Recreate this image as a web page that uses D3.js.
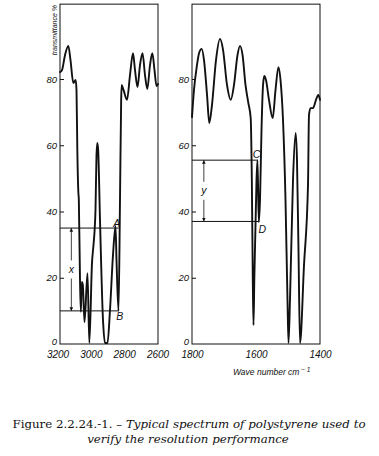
<!DOCTYPE html>
<html>
<head>
<meta charset="utf-8">
<script src="https://cdn.jsdelivr.net/npm/d3@7"></script>
<style>
  html, body { margin: 0; padding: 0; background: #fff; }
  svg { display: block; }
</style>
</head>
<body>
<svg id="chart" width="379" height="456"></svg>
<script>
// ---------- data ----------
const leftWave = [3185,3173,3155,3135,3122,3105,3091,3086,3081,3075,3072,3065,3060,3054,3048,3038,3020,3009,2993,2984,2978,2972,2966,2961,2956,2945,2927,2915,2900,2885,2867,2852,2846,2834,2825,2818,2815,2804,2783,2765,2747,2735,2720,2705,2690,2675,2661,2645,2631,2618,2606,2597];
const leftT    = [82.1,82.7,87.2,90,85.7,78.8,79.7,76.7,58.6,45.9,43.5,19.3,9.7,18.7,17.8,6.6,21.4,0.3,24.5,29.9,33.8,40.5,57,60.7,58.6,37.4,7.2,0.3,0.3,10.3,26.9,35.6,25.4,10,43.5,73.7,78.2,76.7,73.7,81.2,87.8,82.7,77.6,84.2,87.8,81.2,77,84.2,87.8,82.7,77.9,78.5];

const rightWave = [1800,1793.8,1785.3,1778,1769.7,1762.5,1753,1746,1737.5,1725,1712.5,1703,1690.6,1679,1668.8,1657.8,1650,1642,1632.8,1624,1616.6,1613,1610,1607.8,1605.3,1598.4,1595.3,1591.3,1587.5,1582.8,1578,1574,1568.8,1559.4,1547.8,1539,1530,1523.4,1515.6,1507.8,1501.6,1498.4,1493.8,1484.4,1476,1471.9,1467.2,1462.5,1450,1437.5,1434.4,1429.7,1421.9,1412.5,1405.3,1400];
const rightT    = [68.5,76.7,83.6,87.8,89.1,85.7,75.2,66.7,72.2,85.7,92.1,88.8,78.2,73.7,78.2,87.2,90,87.2,78.2,72.8,68.2,49.5,19.3,5.7,19.3,49.5,55.5,36.8,43.5,64.6,78.2,80.9,79.7,73.7,68.2,76.7,83.6,79.7,67.6,43.5,13.3,0.3,13.3,49.5,63.7,55.5,28.4,0.3,23.8,48,69.1,71.2,71.2,73.7,75.2,73.7];

const leftTickLabels  = [3200, 3000, 2800, 2600];
const rightTickLabels = [1800, 1600, 1400];
const yTickLabels     = [0, 20, 40, 60, 80];
const leftFrame  = [3185, 2597];
const rightFrame = [1800, 1400];
const yTop = 102.6;

// resolution markers: x between A (35) and B (10), y between C (55.5) and D (37)
const levelA = 35, levelB = 10, levelC = 55.5, levelD = 37;
const markerLeft  = { wave: 3117, end: 2833 };
const markerRight = { wave: 1763, endC: 1595, endD: 1590 };

// ---------- drawing ----------
const svg = d3.select("#chart");
const ink = "#111";
const sans = "Liberation Sans, Arial, sans-serif";

const y  = d3.scaleLinear().domain([0, 80]).range([344, 79]);
const xL = d3.scaleLinear().domain([3200, 2600]).range([57.5, 157.5]);
const xR = d3.scaleLinear().domain([1800, 1400]).range([192, 320]);

const defs = svg.append("defs");
defs.append("marker").attr("id", "ah")
  .attr("viewBox", "0 0 10 10").attr("refX", 10).attr("refY", 5)
  .attr("markerWidth", 3.6).attr("markerHeight", 8).attr("markerUnits", "userSpaceOnUse")
  .attr("orient", "auto")
  .append("path").attr("d", "M0,0 L10,5 L0,10 Z").attr("fill", ink);

function panel(x, frame, ticks, wave, T) {
  const g = svg.append("g");
  g.append("rect")
    .attr("x", x(frame[0])).attr("y", y(yTop))
    .attr("width", x(frame[1]) - x(frame[0])).attr("height", y(0) - y(yTop))
    .attr("fill", "none").attr("stroke", ink).attr("stroke-width", 1);

  const ya = g.append("g").attr("transform", `translate(${x(frame[0])},0)`)
    .call(d3.axisLeft(y).tickValues(yTickLabels).tickSize(-4).tickPadding(3));
  ya.select(".domain").remove();
  ya.selectAll(".tick line").attr("stroke", ink);
  ya.selectAll(".tick").filter(d => d === 0).select("line").remove();
  ya.selectAll("text").attr("font-family", sans)
    .attr("font-style", "italic").attr("font-size", 9.5).attr("fill", ink);
  ya.selectAll(".tick").filter(d => d === 0).select("text").attr("dy", "0.05em");

  const xa = g.append("g").attr("transform", `translate(0,${y(0)})`)
    .call(d3.axisBottom(x).tickValues(ticks).tickSize(0).tickPadding(7).tickFormat(d3.format("d")));
  xa.select(".domain").remove();
  xa.selectAll("text").attr("font-family", sans)
    .attr("font-style", "italic").attr("font-size", 10).attr("fill", ink);

  const pts = wave.map((w, i) => [w, T[i]]);
  g.append("path").datum(pts)
    .attr("fill", "none").attr("stroke", ink).attr("stroke-width", 1.9)
    .attr("stroke-linejoin", "round").attr("stroke-linecap", "round")
    .attr("d", d3.line().x(d => x(d[0])).y(d => y(d[1])).curve(d3.curveMonotoneX));
  return g;
}

const gl = panel(xL, leftFrame, leftTickLabels, leftWave, leftT);
const gr = panel(xR, rightFrame, rightTickLabels, rightWave, rightT);

function hline(g, x, w0, w1, lev) {
  g.append("line").attr("x1", x(w0)).attr("x2", x(w1)).attr("y1", y(lev)).attr("y2", y(lev))
    .attr("stroke", ink).attr("stroke-width", 1);
}
function darrow(g, xp, top, bot, label) {
  const mid = (y(top) + y(bot)) / 2;
  g.append("line").attr("x1", xp).attr("x2", xp).attr("y1", mid - 9).attr("y2", y(top))
    .attr("stroke", ink).attr("stroke-width", 0.8).attr("marker-end", "url(#ah)");
  g.append("line").attr("x1", xp).attr("x2", xp).attr("y1", mid + 9).attr("y2", y(bot))
    .attr("stroke", ink).attr("stroke-width", 0.8).attr("marker-end", "url(#ah)");
  g.append("text").attr("x", xp).attr("y", mid + 3.5).attr("text-anchor", "middle")
    .attr("font-family", sans).attr("font-style", "italic")
    .attr("font-size", 10.5).attr("fill", ink).text(label);
}
function letter(g, px, py, t) {
  g.append("text").attr("x", px).attr("y", py).attr("text-anchor", "middle")
    .attr("font-family", sans).attr("font-style", "italic")
    .attr("font-size", 10.5).attr("fill", ink).text(t);
}

hline(gl, xL, leftFrame[0], markerLeft.end, levelA);
hline(gl, xL, leftFrame[0], markerLeft.end, levelB);
darrow(gl, xL(markerLeft.wave), levelA, levelB, "x");
letter(gl, xL(markerLeft.end) - 2, y(levelA) - 1.5, "A");
letter(gl, xL(markerLeft.end) + 1, y(levelB) + 9.5, "B");

hline(gr, xR, rightFrame[0], markerRight.endC, levelC);
hline(gr, xR, rightFrame[0], markerRight.endD, levelD);
darrow(gr, xR(markerRight.wave), levelC, levelD, "y");
letter(gr, xR(markerRight.endC) - 1, y(levelC) - 2.5, "C");
letter(gr, xR(markerRight.endD) + 3, y(levelD) + 12, "D");

svg.append("text")
  .attr("transform", `translate(56.5,5) rotate(-90)`)
  .attr("text-anchor", "end")
  .attr("font-family", sans).attr("font-style", "italic")
  .attr("font-size", 7).attr("fill", ink).text("transmittance %");

const xt = svg.append("text").attr("x", 233).attr("y", 375)
  .attr("font-family", sans).attr("font-style", "italic")
  .attr("font-size", 8.5).attr("fill", ink);
xt.append("tspan").text("Wave number cm");
xt.append("tspan").attr("dy", -3.5).attr("font-size", 6.5).text(" \u2212 1");

const serif = "DejaVu Serif, Liberation Serif, serif";
const cap1 = svg.append("text").attr("x", 189).attr("y", 428).attr("text-anchor", "middle")
  .attr("font-family", serif).attr("font-size", 11.8).attr("fill", ink);
cap1.append("tspan").text("Figure 2.2.24.-1. \u2013 ");
cap1.append("tspan").attr("font-style", "italic").text("Typical spectrum of polystyrene used to");
svg.append("text").attr("x", 188).attr("y", 443).attr("text-anchor", "middle")
  .attr("font-family", serif).attr("font-size", 11.8)
  .attr("font-style", "italic").attr("fill", ink).text("verify the resolution performance");
</script>
</body>
</html>
